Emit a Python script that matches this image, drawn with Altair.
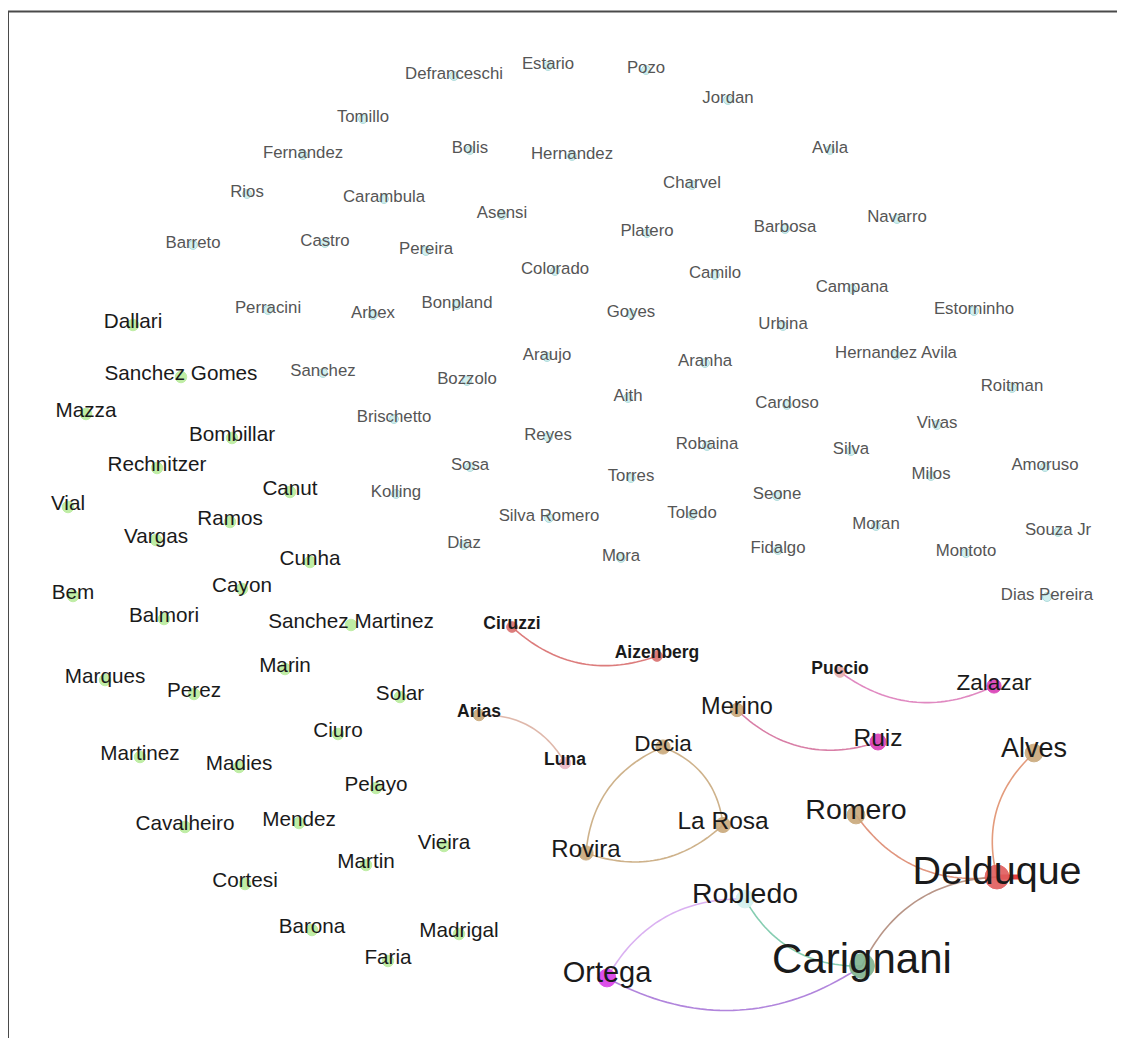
import altair as alt
import pandas as pd
import numpy as np

# ---------------- data ----------------
# unconnected light-blue nodes (grey labels)
grey_names = ["Defranceschi", "Estario", "Pozo", "Jordan", "Tomillo", "Fernandez", "Bolis", "Hernandez",
              "Avila", "Charvel", "Rios", "Carambula", "Asensi", "Platero", "Barbosa", "Navarro", "Barreto",
              "Castro", "Pereira", "Colorado", "Camilo", "Campana", "Perracini", "Arbex", "Bonpland", "Goyes",
              "Urbina", "Estorninho", "Sanchez", "Araujo", "Aranha", "Hernandez Avila", "Bozzolo", "Aith",
              "Roitman", "Cardoso", "Brischetto", "Reyes", "Vivas", "Robaina", "Silva", "Sosa", "Torres",
              "Milos", "Amoruso", "Kolling", "Seone", "Silva Romero", "Toledo", "Moran", "Souza Jr", "Diaz",
              "Fidalgo", "Montoto", "Mora", "Dias Pereira"]
grey_x = [454, 548, 646, 728, 363, 303, 470, 572, 830, 692, 247, 384, 502, 647, 785, 897, 193, 325, 426, 555,
          715, 852, 268, 373, 457, 631, 783, 974, 323, 547, 705, 896, 467, 628, 1012, 787, 394, 548, 937, 707,
          851, 470, 631, 931, 1045, 396, 777, 549, 692, 876, 1058, 464, 778, 966, 621, 1047]
grey_y = [76, 66, 70, 100, 119, 155, 150, 156, 150, 185, 194, 199, 215, 233, 229, 219, 245, 243, 251, 271,
          275, 289, 310, 315, 305, 314, 326, 311, 373, 357, 363, 355, 381, 398, 388, 405, 419, 437, 425, 446,
          451, 467, 478, 476, 467, 494, 496, 518, 515, 526, 532, 545, 550, 553, 558, 597]

# unconnected green nodes (black labels)
green_names = ["Dallari", "Sanchez Gomes", "Mazza", "Bombillar", "Rechnitzer", "Vial", "Canut", "Ramos",
               "Vargas", "Cunha", "Cayon", "Bem", "Balmori", "Sanchez Martinez", "Marin", "Marques", "Perez",
               "Solar", "Ciuro", "Martinez", "Madies", "Pelayo", "Cavalheiro", "Mendez", "Vieira", "Martin",
               "Cortesi", "Barona", "Madrigal", "Faria"]
green_x = [133, 181, 86, 232, 157, 68, 290, 230, 156, 310, 242, 73, 164, 351, 285, 105, 194, 400, 338, 140,
           239, 376, 185, 299, 444, 366, 245, 312, 459, 388]
green_y = [325, 377, 414, 438, 468, 507, 492, 522, 540, 562, 589, 596, 619, 625, 669, 680, 694, 697, 734, 757,
           767, 788, 827, 823, 846, 865, 884, 930, 934, 961]

# connected nodes
conn_names = ["Ciruzzi", "Aizenberg", "Puccio", "Zalazar", "Merino", "Ruiz", "Arias", "Luna", "Decia",
              "Alves", "Romero", "La Rosa", "Rovira", "Delduque", "Robledo", "Carignani", "Ortega"]
conn_x = [512, 657, 840, 994, 737, 878, 479, 565, 663, 1034, 856, 723, 586, 997, 745, 862, 607]
conn_y = [627, 656, 672, 686, 710, 742, 715, 763, 747, 753, 815, 825, 853, 877, 899, 966, 978]
conn_fill = ["#d9706e", "#d9706e", "#e8afae", "#d93cb5", "#c9a87a", "#d93cb5", "#c9a87a", "#ecb7c6",
             "#c9a87a", "#c9a87a", "#c9a87a", "#c9a87a", "#c9a87a", "#e05c5c", "#d3f1ef", "#7fb28e", "#d93de8"]
conn_radius = [6, 6, 6, 8, 7.5, 9, 6.5, 6.5, 8, 10, 10, 8.5, 8, 13.5, 10, 14, 10]
conn_font = [17.5, 17.5, 17.5, 22.5, 23.5, 24.5, 17.5, 17.5, 22.5, 27, 28.5, 24.5, 24, 39.5, 28.5, 42, 29]
conn_group = ["small", "small", "small", "mid", "mid", "mid", "small", "small", "mid", "mid", "mid", "mid",
              "mid", "big", "mid", "big", "mid"]

# edges (source -> target, clockwise curved)
edge_source = ["Ciruzzi", "Luna", "Puccio", "Merino", "La Rosa", "Decia", "Rovira", "Romero", "Alves",
               "Delduque", "Robledo", "Robledo", "Ortega"]
edge_target = ["Aizenberg", "Arias", "Zalazar", "Ruiz", "Decia", "Rovira", "La Rosa", "Delduque", "Delduque",
               "Carignani", "Carignani", "Ortega", "Carignani"]
edge_color = ["#d86e6e", "#dbb0a2", "#dd7cba", "#d4709c", "#c9aa7e", "#c9aa7e", "#c9aa7e", "#dd8a70",
              "#e0906e", "#b08a7a", "#78c8a8", "#d6a8f0", "#a878d8"]
curvature = 0.3

# self loops (short stubs)
loop_nodes = ["Delduque"]

# ---------------- tables ----------------
nodes = pd.DataFrame({
    "name": grey_names + green_names + conn_names,
    "x": grey_x + green_x + conn_x,
    "y": grey_y + green_y + conn_y,
    "fill": ["#cdeeee"] * len(grey_names) + ["#b9ec9c"] * len(green_names) + conn_fill,
    "r": [5] * len(grey_names) + [6.5] * len(green_names) + conn_radius,
    "font": [16.8] * len(grey_names) + [20.7] * len(green_names) + conn_font,
    "group": ["grey"] * len(grey_names) + ["green"] * len(green_names) + conn_group,
})
nodes["size"] = np.pi * nodes["r"] ** 2
nodes["stroke"] = np.where(nodes["group"] == "grey", "#a6d8d8", nodes["fill"])

pos = {n: (x, y) for n, x, y in zip(nodes["name"], nodes["x"], nodes["y"])}
rows = []
ts = np.linspace(0, 1, 40)
for i, (s, t, c) in enumerate(zip(edge_source, edge_target, edge_color)):
    (x0, y0), (x1, y1) = pos[s], pos[t]
    dx, dy = x1 - x0, y1 - y0
    cx = (x0 + x1) / 2 - dy * curvature
    cy = (y0 + y1) / 2 + dx * curvature
    for k, tt in enumerate(ts):
        bx = (1 - tt) ** 2 * x0 + 2 * (1 - tt) * tt * cx + tt ** 2 * x1
        by = (1 - tt) ** 2 * y0 + 2 * (1 - tt) * tt * cy + tt ** 2 * y1
        rows.append({"edge": i, "t": k, "x": bx, "y": by, "color": c})
edges = pd.DataFrame(rows)

loops = nodes[nodes["name"].isin(loop_nodes)][["name", "x", "y"]]

# ---------------- chart ----------------
W, H = 1109, 1030
xs = alt.Scale(domain=[8, 8 + W], nice=False, zero=False)
ys = alt.Scale(domain=[8, 8 + H], nice=False, zero=False, reverse=True)
X = alt.X("x:Q", scale=xs, axis=None)
Y = alt.Y("y:Q", scale=ys, axis=None)
FONT = "Liberation Sans"

edge_layer = alt.Chart(edges).mark_line(strokeWidth=1.6, opacity=0.9).encode(
    x=X, y=Y, detail="edge:N", order="t:Q", color=alt.Color("color:N", scale=None)
)

loop_layer = alt.Chart(loops).transform_calculate(x2="datum.x + 24").mark_rule(
    strokeWidth=5, color="#e02a2a", opacity=0.9
).encode(x=X, x2="x2:Q", y=Y)

node_layer = alt.Chart(nodes).mark_circle(opacity=0.9, strokeWidth=1).encode(
    x=X, y=Y,
    size=alt.Size("size:Q", scale=None),
    color=alt.Color("fill:N", scale=None),
    stroke=alt.Stroke("stroke:N", scale=None),
)


def labels(groups, color, dy, weight="normal"):
    return alt.Chart(nodes).transform_filter(
        alt.FieldOneOfPredicate(field="group", oneOf=groups)
    ).mark_text(font=FONT, color=color, baseline="alphabetic", align="center", dy=dy,
                fontWeight=weight).encode(
        x=X, y=Y, text="name:N", size=alt.Size("font:Q", scale=None)
    )


frame_src = pd.DataFrame({"a": [0]})
top_line = alt.Chart(frame_src).mark_rule(color="#4a4a4a", strokeWidth=2).encode(
    x=alt.value(0), x2=alt.value(W), y=alt.value(3.5)
)
left_line = alt.Chart(frame_src).mark_rule(color="#4a4a4a", strokeWidth=2).encode(
    x=alt.value(0), y=alt.value(3), y2=alt.value(H)
)

chart = alt.layer(
    edge_layer, loop_layer, node_layer,
    labels(["grey"], "#555555", 2.5),
    labels(["green"], "#1a1a1a", 2.5),
    labels(["small"], "#1a1a1a", 1.5, "bold"),
    labels(["mid"], "#1a1a1a", 4),
    labels(["big"], "#1a1a1a", 6.5),
    top_line, left_line,
).properties(width=W, height=H, padding=0, autosize="none").configure_view(stroke=None)

chart.save("out.html", embed_options={"renderer": "svg", "actions": False})
